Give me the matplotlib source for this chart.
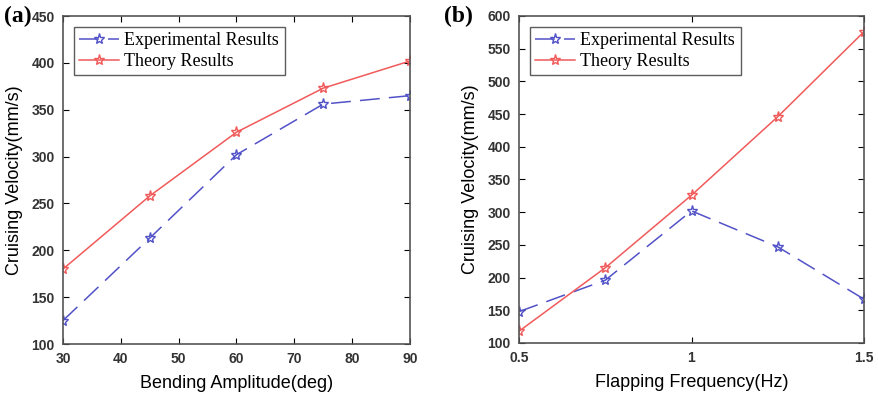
import matplotlib.pyplot as plt

# panel (a): cruising velocity vs bending amplitude
amp_deg = [30, 45, 60, 75, 90]
amp_exp = [125, 213, 302, 356, 365]
amp_theory = [180, 258, 326, 373, 402]

# panel (b): cruising velocity vs flapping frequency
freq_hz = [0.5, 0.75, 1.0, 1.25, 1.5]
freq_exp = [148, 196, 302, 247, 167]
freq_theory = [118, 215, 326, 446, 576]

blue = '#5252c8'
red = '#f05a5a'

fig = plt.figure(figsize=(8.79, 3.96), dpi=100)
ax_a = fig.add_axes([63 / 879, 1 - 344 / 396, 347 / 879, 328 / 396])
ax_b = fig.add_axes([519 / 879, 1 - 343 / 396, 345 / 879, 327 / 396])


def style_ticks(ax):
    for lbl in ax.get_xticklabels() + ax.get_yticklabels():
        lbl.set_fontfamily('Liberation Sans')
        lbl.set_fontweight('bold')
        lbl.set_color('#333333')


def draw_panel(ax, x, exp, theory):
    ax.plot(x, exp, color=blue, linestyle=(0, (13, 6)), linewidth=1.1,
            marker='*', markersize=8, markerfacecolor='none',
            markeredgewidth=1.0, label='Experimental Results')
    ax.plot(x, theory, color=red, linestyle='-', linewidth=1.1,
            marker='*', markersize=8, markerfacecolor='none',
            markeredgewidth=1.0, label='Theory Results')
    ax.tick_params(direction='in', top=True, right=True, length=4,
                   labelsize=10, pad=6)
    for sp in ax.spines.values():
        sp.set_color('#555555')
        sp.set_linewidth(1.2)
    leg = ax.legend(loc='upper left', prop={'family': 'Liberation Serif', 'size': 13},
                    frameon=True, fancybox=False, edgecolor='#333333',
                    borderpad=0.3, handlelength=2.2, handletextpad=0.3,
                    labelspacing=0.2, borderaxespad=0.6)
    leg.get_frame().set_linewidth(1.0)


draw_panel(ax_a, amp_deg, amp_exp, amp_theory)
ax_a.set_xlim(30, 90)
ax_a.set_ylim(100, 450)
ax_a.set_xticks([30, 40, 50, 60, 70, 80, 90])
ax_a.set_yticks(range(100, 451, 50))
style_ticks(ax_a)
ax_a.set_xlabel('Bending Amplitude(deg)', fontsize=13, family='Liberation Sans', labelpad=6)
ax_a.set_ylabel('Cruising Velocity(mm/s)', fontsize=13, family='Liberation Sans', labelpad=6)

draw_panel(ax_b, freq_hz, freq_exp, freq_theory)
ax_b.set_xlim(0.5, 1.5)
ax_b.set_ylim(100, 600)
ax_b.set_xticks([0.5, 1, 1.5])
ax_b.set_xticklabels(['0.5', '1', '1.5'])
ax_b.set_yticks(range(100, 601, 50))
style_ticks(ax_b)
ax_b.set_xlabel('Flapping Frequency(Hz)', fontsize=13, family='Liberation Sans', labelpad=6)
ax_b.set_ylabel('Cruising Velocity(mm/s)', fontsize=13, family='Liberation Sans', labelpad=6)

fig.text(4 / 879, 1 - 16 / 396, '(a)', fontsize=17, fontweight='bold',
         family='Liberation Serif', va='center', ha='left')
fig.text(444 / 879, 1 - 16 / 396, '(b)', fontsize=17, fontweight='bold',
         family='Liberation Serif', va='center', ha='left')

fig.savefig('out.png', dpi=100)
